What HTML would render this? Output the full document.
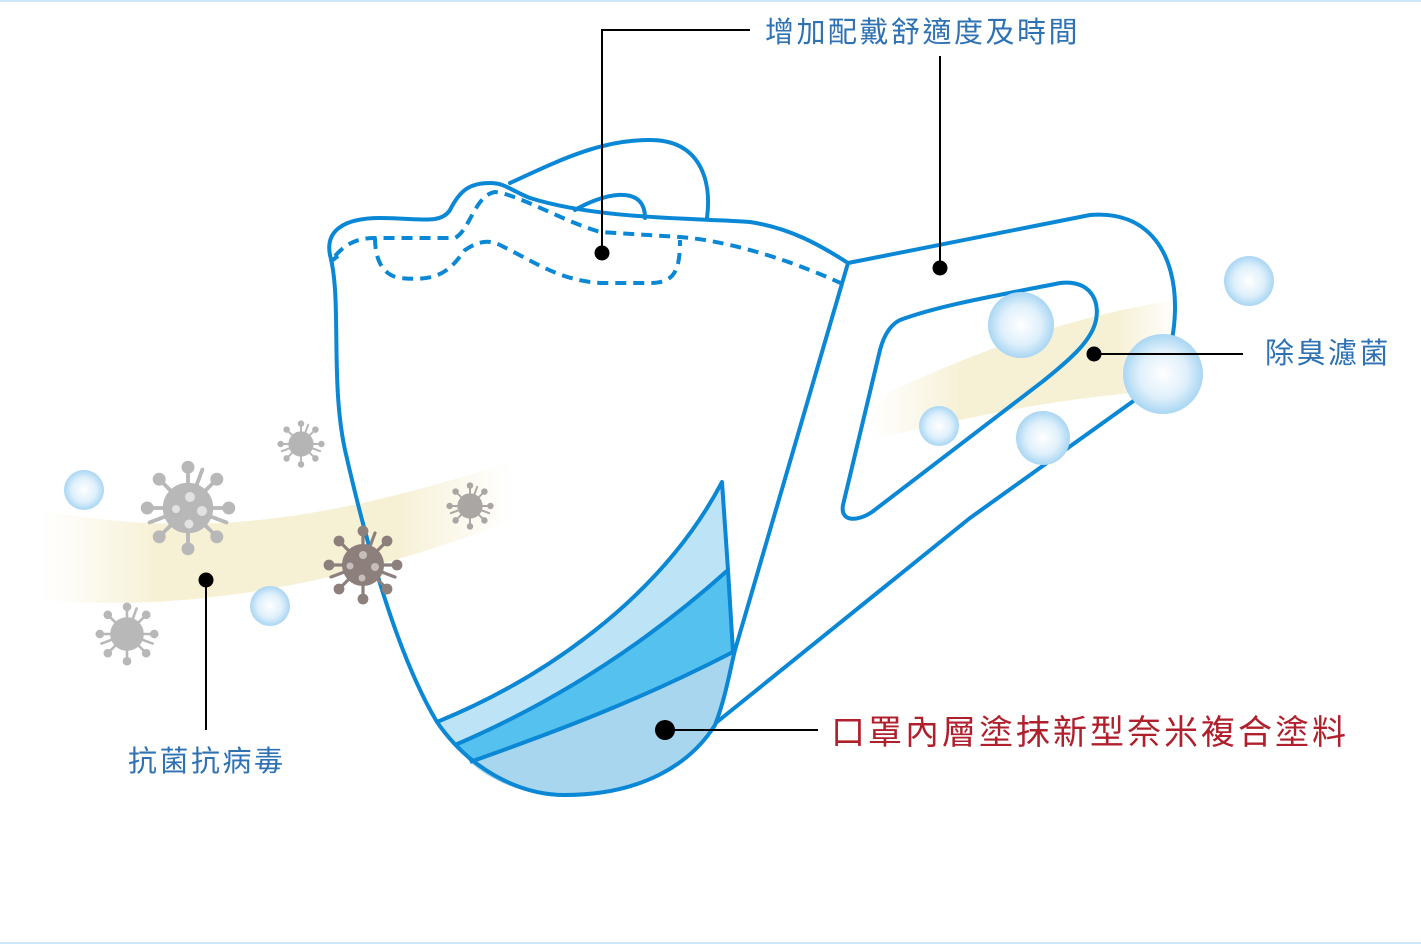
<!DOCTYPE html>
<html><head><meta charset="utf-8"><style>
html,body{margin:0;padding:0;background:#fff}
body{width:1421px;height:945px;overflow:hidden;position:relative;font-family:"Liberation Sans","Noto Sans CJK TC",sans-serif}
.lb{position:absolute;color:#2f72b3;font-size:29px;white-space:nowrap;letter-spacing:2.5px}
</style></head><body>
<svg width="1421" height="945" viewBox="0 0 1421 945" style="position:absolute;left:0;top:0">
<defs>
<radialGradient id="bub" cx="50%" cy="50%" r="50%"><stop offset="0" stop-color="#ffffff"/><stop offset="0.6" stop-color="#dff0fb"/><stop offset="1" stop-color="#a9d6f3"/></radialGradient>
<linearGradient id="yl" x1="0" x2="1" y1="0" y2="0"><stop offset="0" stop-color="#f8f3dc" stop-opacity="0"/><stop offset="0.25" stop-color="#f6f0d4"/><stop offset="0.75" stop-color="#f6f0d4"/><stop offset="1" stop-color="#f8f3dc" stop-opacity="0"/></linearGradient>
<linearGradient id="yr" x1="0" x2="1" y1="0" y2="0"><stop offset="0" stop-color="#f8f3dc" stop-opacity="0"/><stop offset="0.3" stop-color="#f6f0d4"/><stop offset="0.8" stop-color="#f6f0d4"/><stop offset="1" stop-color="#f8f3dc" stop-opacity="0"/></linearGradient>
<g id="vir">
<g stroke-width="1.6" stroke-linecap="round">
<line x1="0" y1="0" x2="0" y2="-17"/><line x1="0" y1="0" x2="12" y2="-12"/><line x1="0" y1="0" x2="17" y2="0"/><line x1="0" y1="0" x2="12" y2="12"/><line x1="0" y1="0" x2="0" y2="17"/><line x1="0" y1="0" x2="-12" y2="12"/><line x1="0" y1="0" x2="-17" y2="0"/><line x1="0" y1="0" x2="-12" y2="-12"/>
<line x1="0" y1="0" x2="6" y2="-16"/><line x1="0" y1="0" x2="-16" y2="6"/><line x1="0" y1="0" x2="16" y2="6"/>
</g>
<circle r="10"/>
<circle cx="0" cy="-17" r="2.2"/><circle cx="12" cy="-12" r="2.2"/><circle cx="17" cy="0" r="2.2"/><circle cx="12" cy="12" r="2.2"/><circle cx="0" cy="17" r="2.2"/><circle cx="-12" cy="12" r="2.2"/><circle cx="-17" cy="0" r="2.2"/><circle cx="-12" cy="-12" r="2.2"/>
</g>
</defs>
<line x1="0" y1="1" x2="1421" y2="1" stroke="#cfe6f8" stroke-width="2"/>
<line x1="0" y1="943" x2="1421" y2="943" stroke="#cfe6f8" stroke-width="2"/>
<path d="M40,510 C200,540 330,520 510,462 L515,520 C380,570 220,615 40,600 Z" fill="url(#yl)"/>
<path d="M870,400 C960,360 1050,320 1175,300 L1180,390 C1060,395 960,420 870,440 Z" fill="url(#yr)"/>
<g fill="none" stroke="#0a87d5" stroke-width="4" stroke-linejoin="round" stroke-linecap="round">
<path d="M848,263 L1090,215 C1150,210 1176,255 1175,310 C1174,355 1160,380 1132,402 L970,518 L712,726"/>
<path d="M900,320 C940,305 1000,295 1060,283 C1090,280 1100,300 1096,320 C1092,340 1072,358 1042,382 L872,512 C857,522 840,522 843,505 L880,350 C884,335 890,325 900,320 Z"/>
<path d="M510,183 C560,160 600,140 650,140 C700,140 712,180 707,218"/>
<path d="M575,210 C600,195 645,182 645,218"/>
</g>
<path d="M437,722 C540,680 660,600 722,482 L728,570 C650,640 560,700 455,745 Z" fill="#bde3f7"/>
<path d="M455,745 C560,700 650,640 728,570 L733,652 C640,700 560,730 470,762 Z" fill="#55c1ee"/>
<path d="M470,762 C560,730 640,700 733,652 C728,680 722,705 715,725 C690,765 640,795 565,795 C520,795 490,780 470,762 Z" fill="#a8d6ee"/>
<g fill="none" stroke="#0a87d5" stroke-width="4" stroke-linejoin="round">
<path d="M437,722 C540,680 660,600 722,482 L728,570 L733,652"/>
<path d="M455,745 C560,700 650,640 728,570"/>
<path d="M470,762 C560,730 640,700 733,652"/>
<path d="M848,263 C820,245 790,228 750,222 C700,218 600,220 530,198 C510,190 505,183 490,183 C470,183 460,190 450,210 C440,225 420,218 380,218 C345,218 325,230 330,255 C342,300 330,380 345,450 C370,560 400,660 437,722 C470,770 520,795 565,795 C640,795 690,765 715,725 C725,700 730,670 735,650 Z"/>
<path d="M330,262 L338,256"/>
</g>
<g fill="none" stroke="#0a87d5" stroke-width="4" stroke-dasharray="11,7">
<path d="M335,256 C345,245 355,238 375,238 L455,238 C470,230 475,195 495,192 C520,195 560,220 600,232 L680,237 C720,240 780,255 845,285"/>
<path d="M375,238 C375,255 380,275 400,278 C440,282 450,270 465,250 C480,240 490,240 500,245 C540,265 560,280 600,283 L650,283 C675,283 680,270 680,240"/>
</g>
<g fill="url(#bub)">
<circle cx="84" cy="490" r="20"/><circle cx="270" cy="606" r="20"/><circle cx="1249" cy="281" r="25"/><circle cx="1021" cy="325" r="33"/><circle cx="1163" cy="374" r="40"/><circle cx="939" cy="426" r="20"/><circle cx="1043" cy="438" r="27"/>
</g>
<use href="#vir" transform="translate(188,508) scale(2.4)" fill="#b8b8b8" stroke="#b8b8b8"/>
<g fill="#e2e2e2"><circle cx="190" cy="497" r="5"/><circle cx="176" cy="509" r="4"/><circle cx="202" cy="511" r="5"/><circle cx="189" cy="524" r="4.5"/></g>
<use href="#vir" transform="translate(301,444) scale(1.2)" fill="#b5b5b5" stroke="#b5b5b5"/>
<use href="#vir" transform="translate(470,506) scale(1.2)" fill="#aaa6a4" stroke="#aaa6a4"/>
<use href="#vir" transform="translate(127,634) scale(1.6)" fill="#b8b8b8" stroke="#b8b8b8"/>
<use href="#vir" transform="translate(363,565) scale(2)" fill="#8c7f7c" stroke="#8c7f7c"/>
<g fill="#c7bebb"><circle cx="363" cy="555" r="4"/><circle cx="350" cy="566" r="3.5"/><circle cx="375" cy="567" r="4"/><circle cx="362" cy="578" r="3.5"/></g>
<g stroke="#000" stroke-width="2" fill="none">
<path d="M750,30 L602,30 L602,253"/>
<path d="M940,56 L940,268"/>
<path d="M1093,354 L1243,354"/>
<path d="M206,580 L206,730"/>
<path d="M665,730 L818,730"/>
</g>
<g fill="#000"><circle cx="602" cy="253" r="7.5"/><circle cx="940" cy="268" r="7.5"/><circle cx="1094" cy="354" r="7.5"/><circle cx="206" cy="580" r="7.5"/><circle cx="665" cy="730" r="10"/></g>
</svg>
<div class="lb" style="left:765px;top:9px">增加配戴舒適度及時間</div>
<div class="lb" style="left:1265px;top:330px">除臭濾菌</div>
<div class="lb" style="left:128px;top:738px">抗菌抗病毒</div>
<div class="lb" style="left:831px;top:705px;color:#b0202c;font-size:34px;letter-spacing:3px">口罩內層塗抹新型奈米複合塗料</div>
</body></html>
